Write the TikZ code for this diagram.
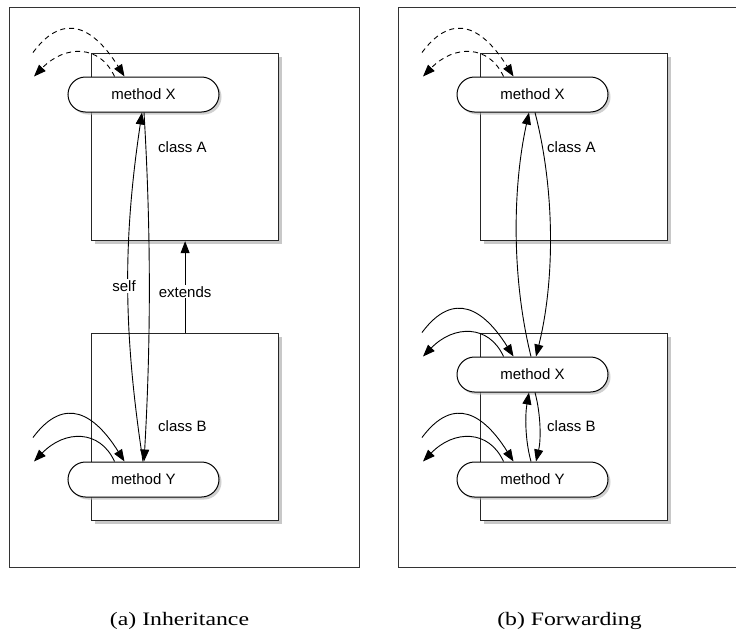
\documentclass[tikz,border=0pt]{standalone}
\usepackage{fontspec}
\setmainfont{Liberation Serif}
\newfontfamily\diagfont{Liberation Sans}
\usetikzlibrary{arrows.meta,shadows}

\tikzset{
  frame/.style={draw=black!80, line width=1.1pt, inner sep=0pt, anchor=north west},
  classbox/.style={draw=black!85, line width=1.2pt, fill=white, inner sep=0pt,
    minimum width=187pt, minimum height=187pt, anchor=north west,
    drop shadow={shadow xshift=3pt, shadow yshift=-3pt, fill=black!30, opacity=0.7}},
  pill/.style={draw=black, line width=1pt, fill=white, rounded corners=17.5pt,
    minimum width=151pt, minimum height=35pt, inner sep=0pt,
    font=\diagfont\fontsize{15}{18}\selectfont,
    drop shadow={shadow xshift=2.5pt, shadow yshift=-2.5pt, fill=black!30, opacity=0.6}},
  lbl/.style={font=\diagfont\fontsize{15}{18}\selectfont, inner sep=1pt},
  arr/.style={line width=0.9pt, -{Triangle[length=12pt,width=9pt]}},
  darr/.style={arr, dash pattern=on 5pt off 4pt},
  captext/.style={font=\fontsize{19}{22}\selectfont, inner sep=0pt, anchor=base, xscale=1.25}
}

\newcommand{\callpair}[2]{%
  \coordinate (#1-src) at ([shift={(-110.5,-24)}]#1.north);
  \coordinate (#1-dst) at ([shift={(-109.5,0)}]#1.north);
  \draw[#2] (#1-src) .. controls ([shift={(-78.5,-67)}]#1.north) and ([shift={(-48.5,-47)}]#1.north) .. ([xshift=-19pt]#1.north);
  \draw[#2] ([xshift=-29pt]#1.north) .. controls ([shift={(-43.5,-32)}]#1.north) and ([shift={(-78.5,-32)}]#1.north) .. (#1-dst);
}

\begin{document}
\begin{tikzpicture}[x=1pt,y=-1pt]
  \fill[white] (0,0) rectangle (736,635);
  \useasboundingbox (0,0) rectangle (736,635);
  \clip (0,0) rectangle (736,635);

  % outer panels
  \node[frame, minimum width=350pt, minimum height=560pt] (P1) at (9,7) {};
  \node[frame, minimum width=347pt, minimum height=560pt] (P2) at (398,7) {};

  % class boxes
  \node[classbox] (A1) at (91,53) {};
  \node[classbox] (B1) at (91,333) {};
  \node[classbox] (A2) at (480,53) {};
  \node[classbox] (B2) at (480,333) {};

  % methods
  \node[pill] (X1) at (143.5,94.5) {method X};
  \node[pill] (Y1) at (143.5,479.5) {method Y};
  \node[pill] (XA) at (532.5,94.5) {method X};
  \node[pill] (XB) at (532.5,374.5) {method X};
  \node[pill] (YB) at (532.5,479.5) {method Y};

  % class labels
  \node[lbl, anchor=west] (la1) at (157,147) {class A};
  \node[lbl, anchor=west] (lb1) at (157,426) {class B};
  \node[lbl, anchor=west] (la2) at (546,147) {class A};
  \node[lbl, anchor=west] (lb2) at (546,426) {class B};

  % external calls
  \callpair{X1}{darr}
  \callpair{Y1}{arr}
  \callpair{XA}{darr}
  \callpair{XB}{arr}
  \callpair{YB}{arr}

  % inheritance panel
  \draw[arr] ([xshift=-0.5pt]Y1.north) .. controls (123,330) and (123,240) .. ([xshift=-1.5pt]X1.south);
  \draw[arr] ([xshift=0.5pt]X1.south) .. controls (151,230) and (151,340) .. ([xshift=0.5pt]Y1.north);
  \node[lbl, fill=white] (self) at (124,286) {self};
  \draw[arr] (B1.north) -- node[lbl, fill=white, pos=0.45] (ext) {extends} (A1.south);

  % forwarding panel
  \draw[arr] ([xshift=-1.5pt]XB.north) .. controls (512,280) and (512,190) .. ([xshift=-3.5pt]XA.south);
  \draw[arr] ([xshift=2.5pt]XA.south) .. controls (555,190) and (555,280) .. ([xshift=3.5pt]XB.north);
  \draw[arr] ([xshift=-1.5pt]YB.north) .. controls (525,440) and (525,415) .. ([xshift=-3.5pt]XB.south);
  \draw[arr] ([xshift=2.5pt]XB.south) .. controls (541,415) and (541,440) .. ([xshift=3.5pt]YB.north);

  % captions
  \node[captext] (capa) at (179.5,625) {(a) Inheritance};
  \node[captext] (capb) at (569.5,625) {(b) Forwarding};
\end{tikzpicture}
\end{document}
